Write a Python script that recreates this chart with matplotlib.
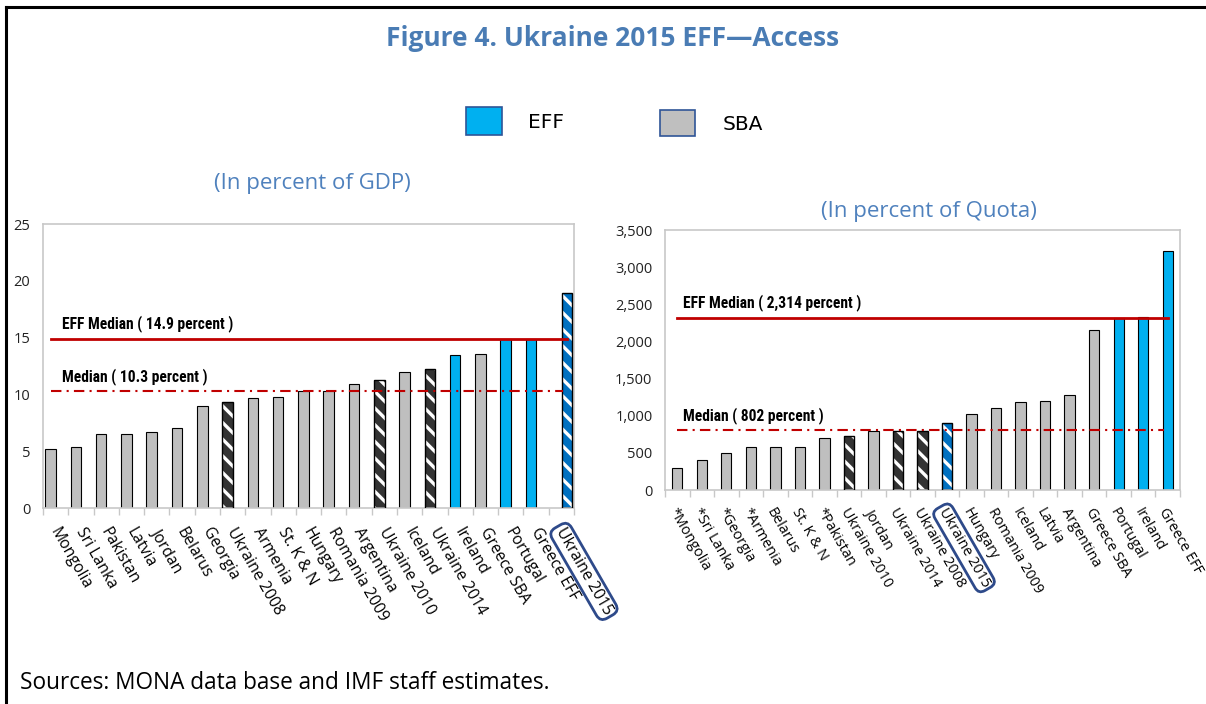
import matplotlib
matplotlib.use("Agg")
import matplotlib.pyplot as plt
from matplotlib.patches import Rectangle
from matplotlib.lines import Line2D
from matplotlib.ticker import FuncFormatter, FixedLocator, NullLocator

plt.rcParams["font.family"] = ["Open Sans", "DejaVu Sans"]
plt.rcParams["hatch.linewidth"] = 2.4

# Left panel: access in percent of GDP
gdp_labels = ["Mongolia", "Sri Lanka", "Pakistan", "Latvia", "Jordan", "Belarus",
              "Georgia", "Ukraine 2008", "Armenia", "St. K & N", "Hungary",
              "Romania 2009", "Argentina", "Ukraine 2010", "Iceland", "Ukraine 2014",
              "Ireland", "Greece SBA", "Portugal", "Greece EFF", "Ukraine 2015"]
gdp_values = [5.2, 5.35, 6.5, 6.5, 6.7, 7.0, 9.0, 9.3, 9.7, 9.8, 10.3, 10.3, 10.9,
              11.3, 12.0, 12.2, 13.5, 13.6, 14.9, 14.9, 18.95]
gdp_kind = ["SBA", "SBA", "SBA", "SBA", "SBA", "SBA", "SBA", "UKR", "SBA", "SBA",
            "SBA", "SBA", "SBA", "UKR", "SBA", "UKR", "EFF", "SBA", "EFF", "EFF",
            "UKR15"]
gdp_eff_median = 14.9
gdp_median = 10.3

# Right panel: access in percent of quota
quota_labels = ["*Mongolia", "*Sri Lanka", "*Georgia", "*Armenia", "Belarus",
                "St. K & N", "*Pakistan", "Ukraine 2010", "Jordan", "Ukraine 2014",
                "Ukraine 2008", "Ukraine 2015", "Hungary", "Romania 2009", "Iceland",
                "Latvia", "Argentina", "Greece SBA", "Portugal", "Ireland", "Greece EFF"]
quota_values = [300, 400, 500, 580, 580, 580, 700, 730, 800, 800, 800, 900, 1020,
                1100, 1190, 1200, 1275, 2155, 2310, 2330, 3220]
quota_kind = ["SBA", "SBA", "SBA", "SBA", "SBA", "SBA", "SBA", "UKR", "SBA", "UKR",
              "UKR", "UKR15", "SBA", "SBA", "SBA", "SBA", "SBA", "SBA", "EFF", "EFF",
              "EFF"]
quota_eff_median = 2314
quota_median = 802

GRAY = "#bfbfbf"
BLUE = "#00b0f0"
DARK = "#333333"
DBLUE = "#0070c0"
RED = "#c00000"
TITLE_BLUE = "#4a7cb4"
SUB_BLUE = "#4f81bd"
NAVY = "#2e4a8a"
SPINE = "#c8c8c8"
NARROW = ["Liberation Sans Narrow", "DejaVu Sans Condensed", "Roboto Condensed",
          "Roboto"]

fig = plt.figure(figsize=(12.06, 7.04), dpi=100)

# frame lines (top and left)
fig.add_artist(Line2D([0.005, 1.0], [0.990, 0.990], color="black", lw=2.2,
                      transform=fig.transFigure))
fig.add_artist(Line2D([0.005, 0.005], [0.0, 0.990], color="black", lw=2.2,
                      transform=fig.transFigure))

fig.text(0.508, 0.946, "Figure 4. Ukraine 2015 EFF\u2014Access", ha="center",
         va="center", fontsize=19, fontweight="bold", color=TITLE_BLUE)

# legend
fig.add_artist(Rectangle((466 / 1206, 1 - 135 / 704), 36 / 1206, 28 / 704,
                         transform=fig.transFigure, facecolor=BLUE,
                         edgecolor="#2f5597", lw=1.2))
fig.text(528 / 1206, 1 - 123 / 704, "EFF", ha="left", va="center", fontsize=14.5,
         family=["DejaVu Sans"])
fig.add_artist(Rectangle((660 / 1206, 1 - 136 / 704), 35 / 1206, 26 / 704,
                         transform=fig.transFigure, facecolor=GRAY,
                         edgecolor="#2f5597", lw=1.2))
fig.text(723 / 1206, 1 - 125 / 704, "SBA", ha="left", va="center", fontsize=14.5,
         family=["DejaVu Sans"])

fig.text(20 / 1206, 1 - 683 / 704, "Sources: MONA data base and IMF staff estimates.",
         ha="left", va="center", fontsize=16.3)


def draw_panel(ax, labels, values, kinds, offsets, eff_med, med, eff_text, med_text,
               ymax, ystep, fmt, label_size, label_shift, text_dx):
    n = len(labels)
    width = 0.42
    xs = [i + offsets[i] for i in range(n)]
    for x, v, k in zip(xs, values, kinds):
        if k in ("SBA", "EFF"):
            ax.bar(x, v, width, color=GRAY if k == "SBA" else BLUE,
                   edgecolor="black", lw=0.8, zorder=2)
        else:
            ax.bar(x, v, width, color=DARK if k == "UKR" else DBLUE,
                   edgecolor="white", hatch="\\\\", lw=0, zorder=2)
            ax.bar(x, v, width, fill=False, edgecolor="black", lw=1.0, zorder=3)
    ax.plot([xs[0], xs[-1]], [eff_med, eff_med], color=RED, lw=2.0, zorder=4)
    ax.plot([xs[0], xs[-1] - 0.15], [med, med], color=RED, lw=1.5,
            linestyle=(0, (5, 2.5, 1, 2.5)), zorder=4)
    ax.annotate(eff_text, (xs[0], eff_med), xytext=(text_dx, 11),
                textcoords="offset points", ha="left", va="center", fontsize=11.2,
                fontweight="bold", family=NARROW, fontstretch="condensed")
    ax.annotate(med_text, (xs[0], med), xytext=(text_dx, 10.5),
                textcoords="offset points", ha="left", va="center", fontsize=11.2,
                fontweight="bold", family=NARROW, fontstretch="condensed")
    ax.set_xlim(-0.5, n - 0.5)
    ax.set_ylim(0, ymax)
    ax.yaxis.set_major_locator(FixedLocator(list(range(0, ymax + 1, ystep))))
    ax.yaxis.set_major_formatter(FuncFormatter(fmt))
    ax.tick_params(axis="y", length=0, pad=9, labelsize=10.5, labelcolor="#222222")
    ax.xaxis.set_major_locator(NullLocator())
    ax.xaxis.set_minor_locator(FixedLocator([i - 0.5 for i in range(n + 1)]))
    ax.tick_params(axis="x", which="minor", length=5, color=SPINE, width=1)
    for s in ax.spines.values():
        s.set_color(SPINE)
        s.set_linewidth(1.2)
    for i, lab in enumerate(labels):
        t = ax.text(i + label_shift, -0.06, lab, transform=ax.get_xaxis_transform(),
                    rotation=-60, rotation_mode="anchor", ha="left", va="top",
                    fontsize=label_size, color="black")
        if lab == "Ukraine 2015":
            t.set_bbox(dict(boxstyle="round,pad=0.2,rounding_size=0.5",
                            facecolor="none", edgecolor=NAVY, lw=2))


ax1 = fig.add_axes([43 / 1206, 1 - 508 / 704, 531 / 1206, 284 / 704])
gdp_offsets = [0.22 if k == "UKR15" else -0.2 for k in gdp_kind]
draw_panel(ax1, gdp_labels, gdp_values, gdp_kind, gdp_offsets, gdp_eff_median,
           gdp_median, "EFF Median ( 14.9 percent )", "Median ( 10.3 percent )",
           25, 5, lambda v, p: f"{int(v)}", 11.3, 0.2, 8)
fig.text(312 / 1206, 1 - 184 / 704, "(In percent of GDP)", ha="center", va="center",
         fontsize=16, color=SUB_BLUE)

ax2 = fig.add_axes([665 / 1206, 1 - 490 / 704, 515 / 1206, 260 / 704])
quota_offsets = [0.0 for _ in quota_kind]
draw_panel(ax2, quota_labels, quota_values, quota_kind, quota_offsets,
           quota_eff_median, quota_median, "EFF Median ( 2,314 percent )",
           "Median ( 802 percent )", 3500, 500, lambda v, p: f"{int(v):,}",
           10.4, 0.05, 4)
fig.text(929 / 1206, 1 - 212 / 704, "(In percent of Quota)", ha="center", va="center",
         fontsize=16, color=SUB_BLUE)

fig.savefig("out.png", dpi=100)
